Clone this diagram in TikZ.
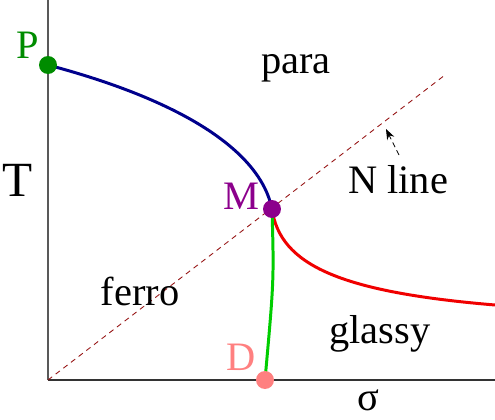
\documentclass[tikz,border=0pt]{standalone}
\usepackage{fontspec}
\setmainfont{Liberation Serif}
\usetikzlibrary{positioning,arrows.meta}
\definecolor{pgreen}{RGB}{0,140,0}
\definecolor{mpurple}{RGB}{140,0,140}
\definecolor{dpink}{RGB}{255,128,128}
\definecolor{cblue}{RGB}{0,0,140}
\definecolor{cred}{RGB}{240,0,0}
\definecolor{cgreen}{RGB}{0,205,0}
\definecolor{nred}{RGB}{150,20,20}
\begin{document}
\begin{tikzpicture}[x=0.02cm,y=-0.02cm,
  pt/.style={circle,inner sep=0pt,minimum size=0.36cm},
  lab/.style={font=\fontsize{23}{26}\selectfont},
  curve/.style={line width=1.7pt}]
\useasboundingbox (0,0) rectangle (495,420);
% Axes
\coordinate (o) at (48,380);
\coordinate (ytop) at (48,0);
\coordinate (xend) at (495,380);
\draw[gray!70!black,line width=0.6pt] (o) -- (ytop);
\draw[black!80,line width=0.6pt] (o) -- (xend);
% N line
\coordinate (nend) at (445,75);
\draw[nred,dashed,dash pattern=on 3pt off 2.5pt,line width=0.5pt] (o) -- (nend);
% Phase points
\coordinate (p) at (48,65);
\coordinate (m) at (272,209);
\coordinate (d) at (265,380);
\coordinate (r) at (495,305);
% Transition lines
\draw[curve,cblue] (p) .. controls (180,100) and (260,150) .. (m);
\draw[curve,cred] (m) .. controls (280,265) and (340,292) .. (r);
\draw[curve,cgreen] (m) .. controls (274,280) .. (d);
\node[pt,fill=pgreen] (P) at (p) {};
\node[pt,fill=mpurple] (M) at (m) {};
\node[pt,fill=dpink] (D) at (d) {};
% Labels
\node[lab,pgreen] (Plab) at (28,45) {P};
\node[lab,mpurple] (Mlab) at (241,196) {M};
\node[lab,dpink] (Dlab) at (241,357) {D};
\node[lab] (para) at (296,68) {para};
\node[lab] (ferro) at (140,291) {ferro};
\node[lab] (glassy) at (380,334) {glassy};
\node[lab] (nlab) at (398,180) {N line};
\node[lab,font=\fontsize{28}{30}\selectfont] (tlab) at (18,180) {T};
\node[lab,inner sep=0pt] (slab) at (368,400) {σ};
\coordinate (nfoot) at (399,155);
\coordinate (ntip) at (386,129);
\draw[-{Stealth[length=6pt]},dashed,dash pattern=on 3pt off 2pt,line width=0.5pt] (nfoot) -- (ntip);
\end{tikzpicture}
\end{document}
